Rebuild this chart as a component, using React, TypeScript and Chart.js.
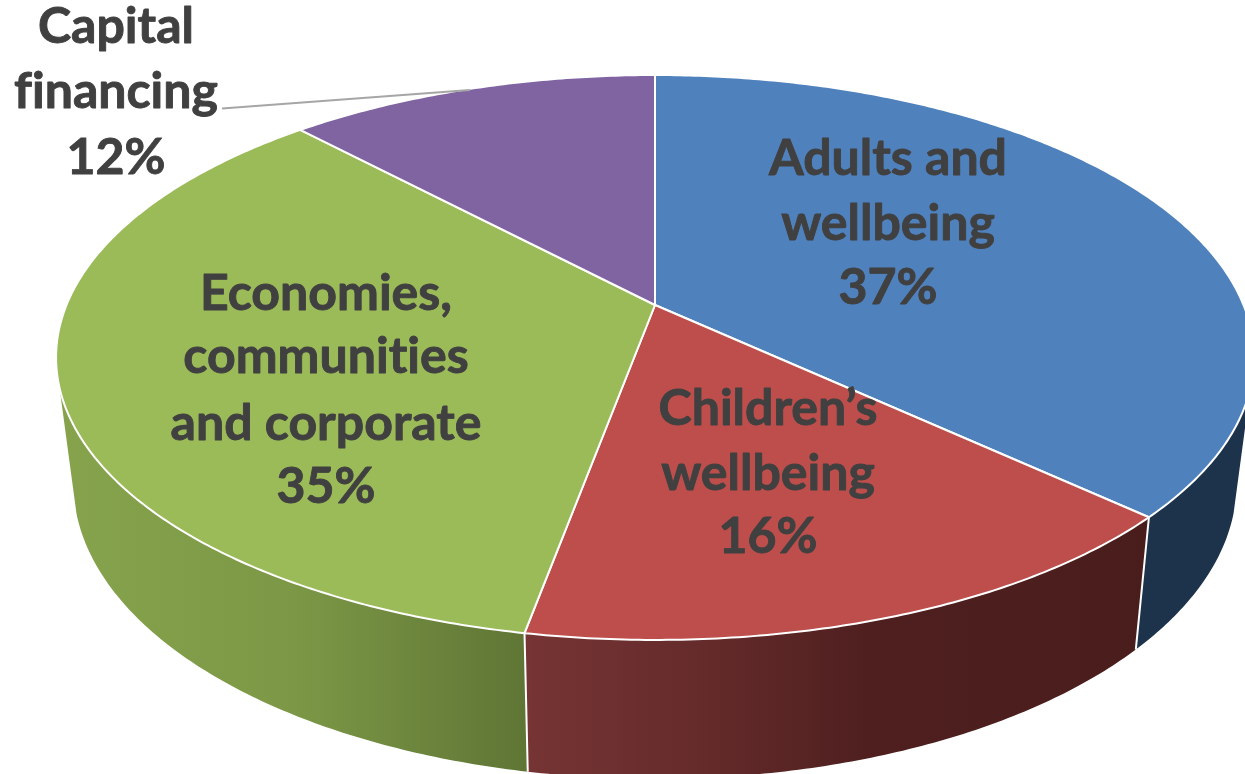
import React, { useEffect, useRef } from "react";
import { Chart, registerables } from "chart.js";

Chart.register(...registerables);

const categories = ["Adults and wellbeing", "Children’s wellbeing", "Economies, communities and corporate", "Capital financing"];
const shares = [36.9, 16, 35.1, 12];
const topColors = ["#4f81bd", "#bd4e4b", "#9bbb59", "#8064a2"];
const wallStops: [number, string][][] = [
  [[0, "#1d324b"], [1, "#1d324b"]],
  [[0, "#763434"], [0.3, "#642a2a"], [0.55, "#4f1f1f"], [1, "#4a1d1d"]],
  [[0, "#86a34c"], [0.5, "#7c9846"], [1, "#5f7535"]],
  [[0, "#000000"], [1, "#000000"]],
];

const labelLines = [
  ["Adults and", "wellbeing", "37%"],
  ["Children’s", "wellbeing", "16%"],
  ["Economies,", "communities", "and corporate", "35%"],
  ["Capital", "financing", "12%"],
];
const labelCentres = [888, 768, 326, 116];
const labelBaselines = [
  [175, 240, 304],
  [425, 490, 553],
  [310, 373, 440, 503],
  [43, 108, 174],
];

// Perspective view of the disc: top face and base face
const topFace = { cx: 655, cy: 305, a: 588.5, b: 272.7, k: 0.1858 };
const baseFace = { cx: 655, cy: 427, a: 571, b: 285, k: 0.19 };
const wallFrom = (106.7 * Math.PI) / 180;
const wallTo = (253.3 * Math.PI) / 180;

type Face = typeof topFace;
// theta is measured clockwise from the top of the disc
const project = (f: Face, theta: number): [number, number] => {
  const u = Math.sin(theta);
  const v = -Math.cos(theta);
  const d = 1 - f.k * v;
  return [f.cx + (f.a * u) / d, f.cy + (f.b * v) / d];
};

const rimPoints = (f: Face, from: number, to: number) => {
  const n = Math.max(2, Math.ceil(Math.abs(to - from) / 0.01));
  const pts: [number, number][] = [];
  for (let i = 0; i <= n; i++) pts.push(project(f, from + ((to - from) * i) / n));
  return pts;
};

const pie3d = {
  id: "pie3d",
  beforeDatasetsDraw(chart: any) {
    const ctx: CanvasRenderingContext2D = chart.ctx;
    const arcs = chart.getDatasetMeta(0).data as any[];
    const angles = arcs.map((a) => [a.startAngle + Math.PI / 2, a.endAngle + Math.PI / 2]);
    ctx.save();
    ctx.lineJoin = "round";

    // side walls
    angles.forEach(([s, e], i) => {
      const from = Math.max(s, wallFrom);
      const to = Math.min(e, wallTo);
      if (to <= from) return;
      const rimTop = rimPoints(topFace, from, to);
      const rimBase = rimPoints(baseFace, from, to).reverse();
      const xs = [...rimTop, ...rimBase].map((p) => p[0]);
      const g = ctx.createLinearGradient(Math.min(...xs), 0, Math.max(...xs), 0);
      wallStops[i].forEach(([o, c]) => g.addColorStop(o, c));
      ctx.beginPath();
      [...rimTop, ...rimBase].forEach((p, j) => (j ? ctx.lineTo(p[0], p[1]) : ctx.moveTo(p[0], p[1])));
      ctx.closePath();
      ctx.fillStyle = g;
      ctx.fill();
    });

    // vertical seams between walls
    angles.forEach(([, e]) => {
      if (e <= wallFrom || e >= wallTo) return;
      const t = project(topFace, e);
      const b = project(baseFace, e);
      ctx.beginPath();
      ctx.moveTo(t[0], t[1]);
      ctx.lineTo(b[0], b[1]);
      ctx.strokeStyle = "#ffffff";
      ctx.lineWidth = 2;
      ctx.stroke();
    });

    // top face
    angles.forEach(([s, e], i) => {
      ctx.beginPath();
      ctx.moveTo(topFace.cx, topFace.cy);
      rimPoints(topFace, s, e).forEach((p) => ctx.lineTo(p[0], p[1]));
      ctx.closePath();
      ctx.fillStyle = topColors[i];
      ctx.fill();
      ctx.strokeStyle = "#ffffff";
      ctx.lineWidth = 2;
      ctx.stroke();
    });

    // leader line of the outside label
    ctx.beginPath();
    ctx.moveTo(222, 108.5);
    ctx.lineTo(470, 90);
    ctx.strokeStyle = "#a6a6a6";
    ctx.lineWidth = 1.8;
    ctx.stroke();

    // labels
    ctx.fillStyle = "#404040";
    ctx.strokeStyle = "#404040";
    ctx.lineWidth = 0.9;
    ctx.font = "700 50px Lato, sans-serif";
    (ctx as any).letterSpacing = "0.01px"; // keeps "fi" and "ti" as separate letters
    ctx.textAlign = "center";
    ctx.textBaseline = "alphabetic";
    labelLines.forEach((lines, i) =>
      lines.forEach((line, j) => {
        ctx.fillText(line, labelCentres[i], labelBaselines[i][j]);
        ctx.strokeText(line, labelCentres[i], labelBaselines[i][j]);
      })
    );
    ctx.restore();
    return false;
  },
};

export default function App() {
  const ref = useRef<HTMLCanvasElement>(null);
  useEffect(() => {
    document.body.style.margin = "0";
    document.body.style.background = "#ffffff";
    const chart = new Chart(ref.current!, {
      type: "pie",
      data: {
        labels: categories,
        datasets: [{ data: shares, backgroundColor: topColors, borderColor: "#ffffff" }],
      },
      options: {
        responsive: false,
        animation: false,
        devicePixelRatio: 1,
        plugins: { legend: { display: false }, tooltip: { enabled: false } },
      },
      plugins: [pie3d],
    } as any);
    return () => chart.destroy();
  }, []);
  return <canvas ref={ref} width={1245} height={774} style={{ display: "block" }} />;
}
